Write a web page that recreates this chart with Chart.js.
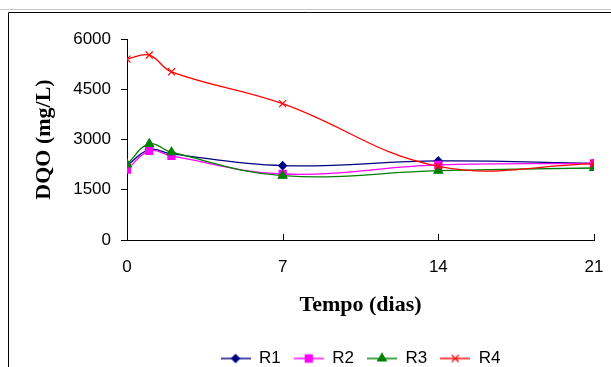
<!DOCTYPE html>
<html>
<head>
<meta charset="utf-8">
<script src="https://cdn.jsdelivr.net/npm/chart.js@4/dist/chart.umd.min.js"></script>
<style>
  html, body { margin: 0; padding: 0; background: #fff; }
  #dqoChart { display: block; }
</style>
</head>
<body>
<canvas id="dqoChart" width="611" height="367"></canvas>
<script>
// sampling days and DQO readings (mg/L) per reactor
const days = [0, 1, 2, 7, 14, 21];
const r1 = [2220, 2700, 2570, 2220, 2360, 2290];
const r2 = [2100, 2660, 2510, 1970, 2240, 2290];
const r3 = [2260, 2870, 2620, 1920, 2070, 2150];
const r4 = [5400, 5520, 5020, 4070, 2200, 2270];

const seriesNames = ['R1', 'R2', 'R3', 'R4'];
const seriesValues = [r1, r2, r3, r4];
const seriesColors = ['#000080', '#ff00ff', '#008000', '#ff0000'];
const seriesMarkers = ['rectRot', 'rect', 'triangle', 'crossRot'];
const markerSizes = [4, 5, 5, 5];

const xTicks = [0, 7, 14, 21];
const yMax = 6000;
const yStep = 1500;

const tickFont = { family: "'Liberation Sans', Arial, sans-serif", size: 17 };
const titleFont = { family: "'Liberation Serif', 'Times New Roman', serif", size: 22, weight: 'bold' };

// small line+marker icon for each legend entry
function legendIcon(i) {
    const c = document.createElement('canvas');
    c.width = 30;
    c.height = 14;
    const ctx = c.getContext('2d');
    ctx.globalAlpha = 0.7;
    ctx.strokeStyle = seriesColors[i];
    ctx.lineWidth = 2;
    ctx.beginPath();
    ctx.moveTo(0, 7);
    ctx.lineTo(30, 7);
    ctx.stroke();
    ctx.globalAlpha = 1;
    ctx.fillStyle = seriesColors[i];
    ctx.lineWidth = 1.2;
    Chart.helpers.drawPoint(ctx, {
        pointStyle: seriesMarkers[i],
        radius: markerSizes[i],
        borderWidth: 1.2,
        rotation: 0
    }, 15, 7);
    return c;
}

// outer frame plus the inward tick marks on the time axis
const frameAndTicks = {
    id: 'frameAndTicks',
    beforeDraw(chart) {
        const ctx = chart.ctx;
        ctx.save();
        ctx.strokeStyle = '#c8c8c8';
        ctx.lineWidth = 1;
        ctx.beginPath();
        ctx.moveTo(0, 9.5);
        ctx.lineTo(chart.width, 9.5);
        ctx.stroke();
        ctx.strokeStyle = '#000';
        ctx.beginPath();
        ctx.moveTo(8.5, chart.height);
        ctx.lineTo(8.5, 12.5);
        ctx.lineTo(chart.width, 12.5);
        ctx.stroke();
        ctx.restore();
    },
    afterDraw(chart) {
        const ctx = chart.ctx;
        const xs = chart.scales.x;
        const bottom = chart.chartArea.bottom;
        ctx.save();
        ctx.strokeStyle = '#000';
        ctx.lineWidth = 1;
        ctx.beginPath();
        xs.ticks.forEach(t => {
            const px = Math.round(xs.getPixelForValue(t.value)) + 0.5;
            ctx.moveTo(px, bottom);
            ctx.lineTo(px, bottom - 6);
        });
        ctx.stroke();
        ctx.restore();
    }
};

const datasets = seriesNames.map((name, i) => ({
    label: name,
    data: days.map((d, k) => ({ x: d, y: seriesValues[i][k] })),
    borderColor: seriesColors[i],
    backgroundColor: seriesColors[i],
    borderWidth: 1.3,
    tension: 0.4,
    pointStyle: seriesMarkers[i],
    pointRadius: markerSizes[i],
    pointBorderWidth: 1.2,
    pointBackgroundColor: seriesColors[i],
    pointBorderColor: seriesColors[i],
    order: seriesNames.length - i
}));

const ctx = document.getElementById('dqoChart').getContext('2d');
new Chart(ctx, {
    type: 'line',
    data: { datasets: datasets },
    options: {
        responsive: false,
        animation: false,
        layout: { padding: { top: 39, right: 17, left: 0, bottom: -10 } },
        plugins: {
            tooltip: { enabled: false },
            legend: {
                position: 'bottom',
                fullSize: false,
                labels: {
                    color: '#000',
                    font: tickFont,
                    usePointStyle: true,
                    pointStyleWidth: 30,
                    padding: 13,
                    sort: (a, b) => a.datasetIndex - b.datasetIndex,
                    generateLabels: (chart) => seriesNames.map((name, i) => ({
                        text: name,
                        datasetIndex: i,
                        pointStyle: legendIcon(i),
                        fillStyle: seriesColors[i],
                        strokeStyle: seriesColors[i],
                        lineWidth: 0,
                        fontColor: '#000',
                        hidden: false
                    }))
                }
            }
        },
        scales: {
            x: {
                type: 'linear',
                min: 0,
                max: 21,
                afterBuildTicks: (scale) => {
                    scale.ticks = xTicks.map(v => ({ value: v }));
                },
                afterFit: (scale) => { scale.height = 97; },
                // outward marks hidden; they only space the labels, the visible marks point inward
                grid: { display: true, drawOnChartArea: false, drawTicks: true, tickLength: 14, tickColor: 'rgba(0,0,0,0)' },
                border: { display: true, color: '#000', width: 1 },
                ticks: { color: '#000', font: tickFont, padding: 3, maxRotation: 0 },
                title: {
                    display: true,
                    text: 'Tempo (dias)',
                    color: '#000',
                    font: titleFont,
                    padding: { top: 0, bottom: 18 }
                }
            },
            y: {
                min: 0,
                max: yMax,
                ticks: {
                    stepSize: yStep,
                    color: '#000',
                    font: tickFont,
                    padding: 10,
                    callback: (v) => String(v)
                },
                afterFit: (scale) => { scale.width = 127; },
                grid: { display: true, drawOnChartArea: false, drawTicks: true, tickLength: 6, color: '#000' },
                border: { display: true, color: '#000', width: 1 },
                title: {
                    display: true,
                    text: 'DQO (mg/L)',
                    color: '#000',
                    font: titleFont,
                    padding: { top: 31, bottom: 0 }
                }
            }
        }
    },
    plugins: [frameAndTicks]
});
</script>
</body>
</html>
